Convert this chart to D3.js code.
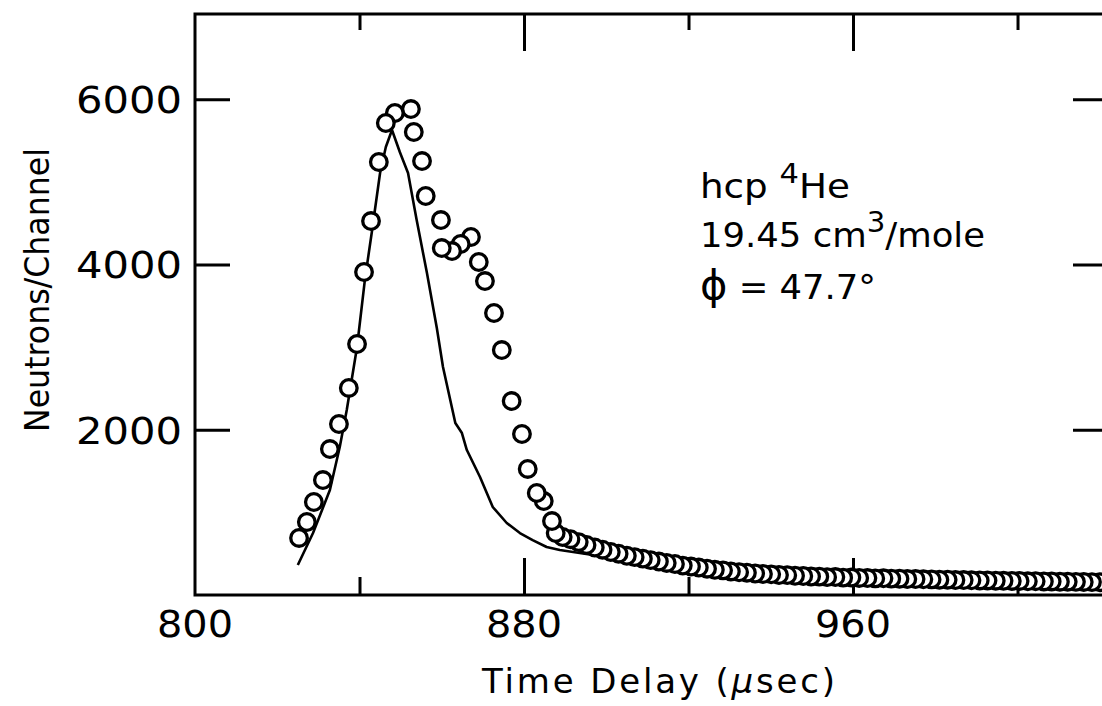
<!DOCTYPE html>
<html>
<head>
<meta charset="utf-8">
<script src="https://cdn.jsdelivr.net/npm/d3@7"></script>
<style>
  body { margin: 0; background: #fff; }
  text { font-family: "DejaVu Sans", sans-serif; fill: #000; }
</style>
</head>
<body>
<div class="chart"></div>
<script>
// measured points (open circles), time delay in usec and neutrons/channel
const obsTime = [825.3, 827.2, 828.9, 831.1, 832.8, 835.0, 837.4, 839.4, 841.1, 842.8,
  844.7, 846.4, 848.6, 852.5, 853.2, 855.2, 856.1, 859.8, 860.0, 862.5,
  864.6, 867.1, 869.0, 870.5, 872.7, 874.6, 877.0, 879.5, 880.9, 883.1,
  884.8, 886.8, 887.7, 889.4,
  891.3, 893.3, 895.2, 897.2, 899.1, 901.1, 903.0, 905.0, 906.9, 908.9,
  910.8, 912.8, 914.7, 916.7, 918.6, 920.6, 922.5, 924.5, 926.4, 928.4,
  930.3, 932.3, 934.2, 936.2, 938.1, 940.1, 942.0, 944.0, 945.9, 947.9,
  949.8, 951.8, 953.7, 955.7, 957.6, 959.6, 961.5, 963.5, 965.4, 967.4,
  969.3, 971.3, 973.2, 975.2, 977.1, 979.1, 981.0, 983.0, 984.9, 986.9,
  988.8, 990.8, 992.7, 994.7, 996.6, 998.6, 1000.5, 1002.5, 1004.4, 1006.4,
  1008.3, 1010.3, 1012.2, 1014.2, 1016.1, 1018.1, 1020.0, 1022.0];
const obsCounts = [690, 883, 1125, 1391, 1766, 2069, 2505, 3037, 3908, 4525,
  5239, 5711, 5832, 5880, 5602, 5251, 4828, 4537, 4198, 4162,
  4247, 4332, 4029, 3799, 3412, 2964, 2347, 1948, 1525, 1234,
  1137, 895, 750, 702,
  675, 640, 605, 575, 548, 520, 500, 475, 458, 440,
  422, 405, 388, 375, 356, 344, 332, 318, 305, 298,
  285, 275, 270, 260, 254, 250, 242, 240, 233, 230,
  224, 222, 216, 217, 210, 211, 206, 205, 201, 202,
  198, 197, 193, 193, 190, 189, 185, 185, 181, 181,
  178, 176, 176, 173, 172, 170, 170, 166, 167, 164,
  164, 161, 161, 159, 158, 156, 155, 154];

// calculated curve (solid line)
const fitTime = [825.0, 828.7, 832.8, 835.2, 836.9, 839.4, 841.3, 843.0, 845.0, 846.4,
  847.9, 849.8, 851.8, 853.9, 856.4, 858.8, 860.3, 863.3, 864.9, 866.1,
  869.3, 872.4, 875.8, 879.0, 882.1, 885.5, 888.7, 898.4, 910.6, 922.7,
  934.9, 947.0, 971.3, 995.6, 1022.0];
const fitCounts = [363, 750, 1270, 1791, 2238, 3001, 3811, 4392, 5106, 5420,
  5626, 5360, 5106, 4537, 3896, 3230, 2759, 2081, 1960, 1754,
  1428, 1065, 871, 750, 665, 581, 545, 472, 387, 327,
  278, 232, 186, 160, 140];

const xMajorTicks = [880, 960];
const xMinorTicks = [840, 920, 1000];
const xTickLabels = [800, 880, 960];
const yMajorTicks = [2000, 4000, 6000];

const margin = { top: 14, right: -6, bottom: 111, left: 195 };
const width = 1102 - margin.left - margin.right,
    height = 706 - margin.top - margin.bottom;

const root = d3.select(".chart")
    .append("svg")
    .attr("width", 1102)
    .attr("height", 706);

const svg = root.append("g")
    .attr("transform", `translate(${margin.left}, ${margin.top})`);

const xScale = d3.scaleLinear().domain([800, 1022]).range([0, width]);
const yScale = d3.scaleLinear().domain([0, 7030]).range([height, 0]);

// ticks pointing into the frame, on all four sides
function tickAxis(axis, size, cls, transform) {
    const g = svg.append("g").attr("class", cls);
    if (transform) g.attr("transform", transform);
    g.call(axis.tickSizeInner(-size).tickSizeOuter(0).tickFormat(""));
    g.select(".domain").remove();
    g.selectAll("line").attr("stroke", "#000").attr("stroke-width", 3);
    g.selectAll("text").remove();
    return g;
}

tickAxis(d3.axisBottom(xScale).tickValues(xMajorTicks), 37, "x-major", `translate(0, ${height})`);
tickAxis(d3.axisBottom(xScale).tickValues(xMinorTicks), 18, "x-minor", `translate(0, ${height})`);
tickAxis(d3.axisTop(xScale).tickValues(xMajorTicks), 37, "x-major-top");
tickAxis(d3.axisTop(xScale).tickValues(xMinorTicks), 16, "x-minor-top");
tickAxis(d3.axisLeft(yScale).tickValues(yMajorTicks), 35, "y-major");
tickAxis(d3.axisRight(yScale).tickValues(yMajorTicks), 35, "y-major-right", `translate(${width}, 0)`);

// frame
svg.append("rect")
    .attr("x", 0)
    .attr("y", 0)
    .attr("width", width)
    .attr("height", height)
    .attr("fill", "none")
    .attr("stroke", "#000")
    .attr("stroke-width", 3);

// tick labels
svg.selectAll(".x-label")
    .data(xTickLabels)
    .enter()
    .append("text")
    .attr("class", "x-label")
    .attr("x", d => xScale(d))
    .attr("y", height + 42)
    .attr("text-anchor", "middle")
    .attr("font-size", 37)
    .attr("textLength", 76)
    .attr("lengthAdjust", "spacingAndGlyphs")
    .text(d => d);

svg.selectAll(".y-label")
    .data(yMajorTicks)
    .enter()
    .append("text")
    .attr("class", "y-label")
    .attr("x", -119)
    .attr("y", d => yScale(d) + 14)
    .attr("font-size", 37)
    .attr("textLength", 106)
    .attr("lengthAdjust", "spacingAndGlyphs")
    .text(d => d);

// axis titles
root.append("text")
    .attr("transform", "translate(49, 290) rotate(-90)")
    .attr("text-anchor", "middle")
    .attr("font-size", 34)
    .attr("textLength", 284)
    .attr("lengthAdjust", "spacingAndGlyphs")
    .text("Neutrons/Channel");

const xt = root.append("text")
    .attr("x", 482)
    .attr("y", 693)
    .attr("font-size", 34)
    .attr("textLength", 353)
    .attr("lengthAdjust", "spacing");
xt.append("tspan").text("Time Delay (");
xt.append("tspan").attr("font-style", "italic").text("\u03bc");
xt.append("tspan").text("sec)");

// calculated line
const line = d3.line()
    .x((d, i) => xScale(fitTime[i]))
    .y(d => yScale(d));

const clip = svg.append("clipPath").attr("id", "plot-clip");
clip.append("rect").attr("x", 0).attr("y", 0).attr("width", width).attr("height", height);

const plot = svg.append("g").attr("clip-path", "url(#plot-clip)");

plot.append("path")
    .datum(fitCounts)
    .attr("fill", "none")
    .attr("stroke", "#000")
    .attr("stroke-width", 2.6)
    .attr("stroke-linejoin", "round")
    .attr("d", line);

// open circles, drawn right to left so each one hides part of its right neighbour
const pts = obsTime.map((t, i) => ({ t: t, c: obsCounts[i] })).reverse();
plot.selectAll(".pt")
    .data(pts)
    .enter()
    .append("circle")
    .attr("class", "pt")
    .attr("cx", d => xScale(d.t))
    .attr("cy", d => yScale(d.c))
    .attr("r", 8.3)
    .attr("fill", "#fff")
    .attr("stroke", "#000")
    .attr("stroke-width", 3.3);

// annotation
const a1 = root.append("text").attr("x", 700).attr("y", 198).attr("font-size", 33)
    .attr("textLength", 150).attr("lengthAdjust", "spacingAndGlyphs");
a1.append("tspan").text("hcp ");
a1.append("tspan").attr("dy", -15).attr("font-size", 27).text("4");
a1.append("tspan").attr("dy", 15).text("He");

const a2 = root.append("text").attr("x", 700).attr("y", 247).attr("font-size", 34)
    .attr("textLength", 285).attr("lengthAdjust", "spacingAndGlyphs");
a2.append("tspan").text("19.45 cm");
a2.append("tspan").attr("dy", -15).attr("font-size", 28).text("3");
a2.append("tspan").attr("dy", 15).text("/mole");

const a3 = root.append("text").attr("x", 700).attr("y", 299).attr("font-size", 34)
    .attr("textLength", 176).attr("lengthAdjust", "spacingAndGlyphs");
a3.append("tspan").attr("font-size", 40).text("\u03d5");
a3.append("tspan").text(" = 47.7\u00b0");
</script>
</body>
</html>
